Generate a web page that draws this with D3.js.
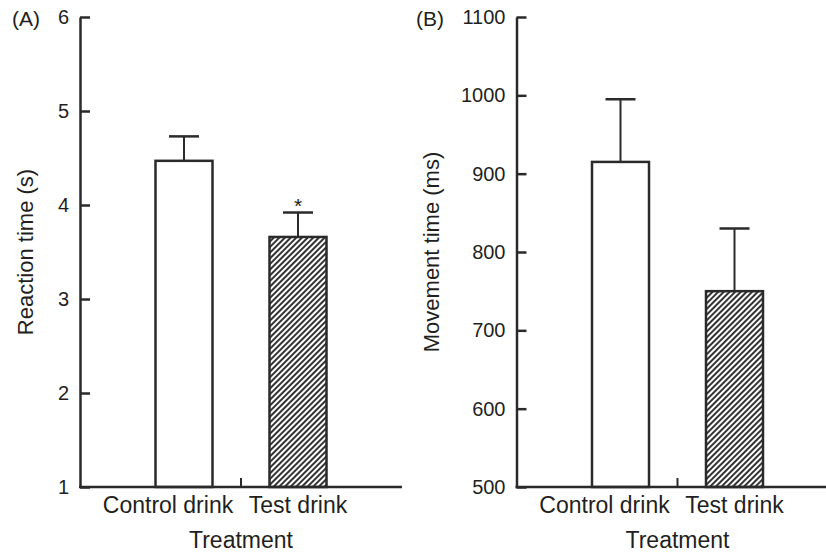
<!DOCTYPE html>
<html>
<head>
<meta charset="utf-8">
<script src="https://cdn.jsdelivr.net/npm/d3@7"></script>
<style>
  body { margin: 0; background: #fff; }
  text { font-family: "Liberation Sans", Arial, sans-serif; fill: #231f20; }
</style>
</head>
<body>
<div id="chart"></div>
<script>
// values
var categories = ["Control drink", "Test drink"];
var reactionMean = [4.47, 3.66];
var reactionErr = [0.26, 0.26];
var reactionSig = ["", "*"];
var movementMean = [915, 750];
var movementErr = [80, 80];
var movementSig = ["", ""];
var reactionTicks = [1, 2, 3, 4, 5, 6];
var movementTicks = [500, 600, 700, 800, 900, 1000, 1100];

var svgWidth = 826;
var svgHeight = 554;
var ink = "#2a2a2a";

var svg = d3.select("#chart")
    .append("svg")
    .attr("width", svgWidth)
    .attr("height", svgHeight);

// hatch fill for the test drink bar
svg.append("defs").append("pattern")
    .attr("id", "hatch")
    .attr("patternUnits", "userSpaceOnUse")
    .attr("width", 4)
    .attr("height", 4)
    .attr("patternTransform", "rotate(45)")
    .append("rect")
    .attr("x", 0)
    .attr("y", 0)
    .attr("width", 2)
    .attr("height", 4)
    .attr("fill", "#333");

var fills = ["#fff", "url(#hatch)"];

function drawPanel(left, letter, letterX, yDomain, ticks, means, errs, sig, yTitle, titleX) {
    var top = 17, bottom = 487, axisLen = 322;

    var g = svg.append("g")
        .attr("transform", `translate(${left}, 0)`);

    var y = d3.scaleLinear().domain(yDomain).range([bottom, top]);
    var x = d3.scaleBand()
        .domain(categories)
        .range([47, 275])
        .paddingInner(0.5)
        .paddingOuter(0.25);

    var data = categories.map((c, i) => ({cat: c, mean: means[i], err: errs[i], fill: fills[i], mark: sig[i]}));

    // bars
    g.selectAll(".bar")
        .data(data)
        .enter()
        .append("rect")
        .attr("class", "bar")
        .attr("x", d => x(d.cat))
        .attr("y", d => y(d.mean))
        .attr("width", x.bandwidth())
        .attr("height", d => bottom - y(d.mean))
        .attr("fill", d => d.fill)
        .attr("stroke", ink)
        .attr("stroke-width", 2.5);

    // error bars (upper only)
    var cx = d => x(d.cat) + x.bandwidth() / 2;
    g.selectAll(".err")
        .data(data)
        .enter()
        .append("line")
        .attr("x1", cx).attr("x2", cx)
        .attr("y1", d => y(d.mean))
        .attr("y2", d => y(d.mean + d.err))
        .attr("stroke", ink)
        .attr("stroke-width", 2);

    g.selectAll(".cap")
        .data(data)
        .enter()
        .append("line")
        .attr("x1", d => cx(d) - 15).attr("x2", d => cx(d) + 15)
        .attr("y1", d => y(d.mean + d.err))
        .attr("y2", d => y(d.mean + d.err))
        .attr("stroke", ink)
        .attr("stroke-width", 2.5);

    g.selectAll(".sig")
        .data(data)
        .enter()
        .append("text")
        .attr("x", cx)
        .attr("y", d => y(d.mean + d.err))
        .attr("text-anchor", "middle")
        .attr("font-size", 21)
        .text(d => d.mark);

    // y axis, ticks pointing inward
    var yAxis = d3.axisLeft(y)
        .tickValues(ticks)
        .tickSizeInner(-10)
        .tickSizeOuter(0)
        .tickPadding(11)
        .tickFormat(d3.format("d"));

    var ya = g.append("g").call(yAxis);
    ya.select(".domain").attr("stroke", ink).attr("stroke-width", 2.5);
    ya.selectAll(".tick line").attr("stroke", ink).attr("stroke-width", 2.5);
    ya.selectAll(".tick text")
        .attr("font-size", 20)
        .attr("font-family", "Liberation Sans, Arial, sans-serif")
        .attr("fill", "#231f20");

    // x axis line with a separator tick between the categories
    g.append("line")
        .attr("x1", -1).attr("x2", axisLen)
        .attr("y1", bottom).attr("y2", bottom)
        .attr("stroke", ink)
        .attr("stroke-width", 2.5);

    var mid = (x(categories[0]) + x(categories[1]) + x.bandwidth()) / 2;
    g.append("line")
        .attr("x1", mid).attr("x2", mid)
        .attr("y1", bottom).attr("y2", bottom - 9)
        .attr("stroke", ink)
        .attr("stroke-width", 2);

    g.selectAll(".cat")
        .data(data)
        .enter()
        .append("text")
        .attr("x", (d, i) => cx(d) + (i === 0 ? -16 : 0))
        .attr("y", bottom + 26)
        .attr("text-anchor", "middle")
        .attr("font-size", 23)
        .text(d => d.cat);

    g.append("text")
        .attr("x", mid)
        .attr("y", bottom + 61)
        .attr("text-anchor", "middle")
        .attr("font-size", 23)
        .text("Treatment");

    g.append("text")
        .attr("transform", `translate(${titleX - left}, ${(top + bottom) / 2}) rotate(-90)`)
        .attr("text-anchor", "middle")
        .attr("font-size", 22)
        .text(yTitle);

    svg.append("text")
        .attr("x", letterX)
        .attr("y", 26)
        .attr("font-size", 21)
        .text(letter);
}

drawPanel(80, "(A)", 12, [1, 6], reactionTicks, reactionMean, reactionErr, reactionSig, "Reaction time (s)", 33);
drawPanel(516.5, "(B)", 416, [500, 1100], movementTicks, movementMean, movementErr, movementSig, "Movement time (ms)", 439);
</script>
</body>
</html>
